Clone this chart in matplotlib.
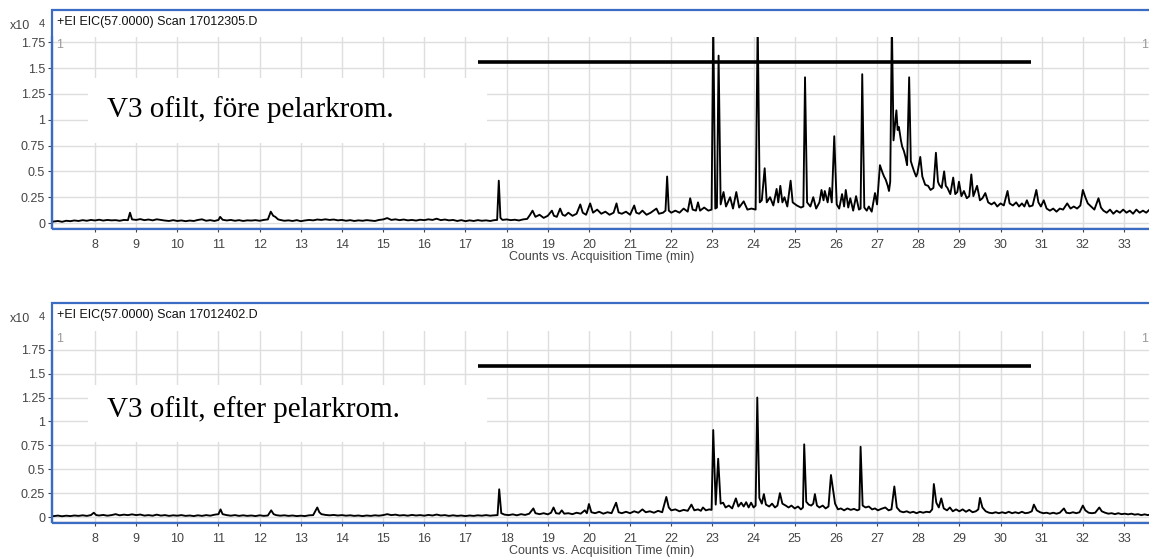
import matplotlib
matplotlib.use("Agg")
import matplotlib.pyplot as plt
from matplotlib.patches import Rectangle

plt.rcParams['font.family'] = ['Liberation Sans', 'DejaVu Sans']

W, H = 1149, 558

# EIC m/z 57, intensitet i enheter av 10^4 counts, tid i minuter
fore = [
    (7.0, .015), (7.1, .020), (7.2, .012), (7.3, .022), (7.4, .018), (7.5, .025), (7.6, .020), (7.7, .028),
    (7.8, .022), (7.9, .030), (8.0, .025), (8.1, .032), (8.2, .024), (8.3, .030), (8.4, .026), (8.5, .028),
    (8.6, .022), (8.7, .030), (8.8, .028), (8.85, .100), (8.9, .035), (9.0, .030), (9.1, .038), (9.2, .028),
    (9.3, .034), (9.4, .026), (9.5, .036), (9.6, .030), (9.7, .024), (9.8, .020), (9.9, .028), (10.0, .020),
    (10.1, .025), (10.2, .018), (10.3, .024), (10.4, .020), (10.5, .030), (10.6, .036), (10.7, .022), (10.8, .028),
    (10.9, .020), (11.0, .030), (11.04, .060), (11.1, .032), (11.2, .025), (11.3, .030), (11.4, .022), (11.5, .028),
    (11.6, .020), (11.7, .026), (11.8, .024), (11.9, .028), (12.0, .022), (12.1, .030), (12.2, .035), (12.27, .110),
    (12.33, .070), (12.38, .060), (12.45, .035), (12.5, .030), (12.6, .022), (12.7, .026), (12.8, .020), (12.9, .028),
    (13.0, .018), (13.1, .025), (13.2, .030), (13.3, .026), (13.4, .034), (13.5, .030), (13.6, .036), (13.7, .030),
    (13.8, .034), (13.9, .026), (14.0, .030), (14.1, .022), (14.2, .028), (14.3, .020), (14.4, .026), (14.5, .022),
    (14.6, .028), (14.7, .024), (14.8, .020), (14.9, .030), (15.0, .035), (15.1, .048), (15.2, .030), (15.3, .036),
    (15.4, .028), (15.5, .034), (15.6, .026), (15.7, .030), (15.8, .024), (15.9, .032), (16.0, .028), (16.1, .036),
    (16.2, .030), (16.3, .042), (16.4, .028), (16.5, .034), (16.6, .026), (16.7, .030), (16.8, .020), (16.9, .028),
    (17.0, .018), (17.1, .026), (17.2, .020), (17.3, .028), (17.4, .022), (17.5, .026), (17.6, .020), (17.7, .028),
    (17.77, .030), (17.81, .410), (17.85, .050), (17.9, .030), (18.0, .035), (18.1, .028), (18.2, .032), (18.3, .025),
    (18.4, .035), (18.5, .040), (18.57, .080), (18.63, .120), (18.7, .060), (18.8, .080), (18.9, .050), (19.0, .070),
    (19.1, .120), (19.15, .070), (19.22, .060), (19.3, .140), (19.36, .080), (19.42, .070), (19.5, .100), (19.6, .070),
    (19.7, .090), (19.79, .180), (19.85, .100), (19.93, .080), (20.03, .190), (20.1, .100), (20.2, .130), (20.3, .090),
    (20.4, .110), (20.5, .080), (20.6, .100), (20.67, .190), (20.72, .100), (20.8, .090), (20.9, .110), (21.0, .080),
    (21.1, .170), (21.15, .100), (21.22, .090), (21.3, .120), (21.4, .080), (21.5, .100), (21.64, .140), (21.7, .090),
    (21.8, .100), (21.86, .120), (21.9, .450), (21.94, .120), (22.0, .100), (22.1, .120), (22.2, .100), (22.3, .140),
    (22.4, .110), (22.46, .240), (22.52, .130), (22.6, .120), (22.65, .200), (22.7, .120), (22.8, .150), (22.9, .120),
    (22.98, .130), (23.02, 1.95), (23.07, .140), (23.11, .150), (23.15, 1.62), (23.2, .180), (23.27, .300), (23.33, .160),
    (23.43, .250), (23.5, .140), (23.58, .300), (23.65, .150), (23.76, .210), (23.85, .130), (23.95, .140), (24.05, .130),
    (24.1, 1.95), (24.15, .200), (24.2, .220), (24.27, .530), (24.32, .200), (24.4, .250), (24.48, .170), (24.56, .330),
    (24.6, .200), (24.65, .360), (24.7, .200), (24.75, .250), (24.82, .160), (24.9, .410), (24.95, .200), (25.05, .170),
    (25.15, .150), (25.21, .160), (25.25, 1.41), (25.3, .200), (25.38, .160), (25.45, .250), (25.52, .140), (25.6, .200),
    (25.65, .320), (25.7, .220), (25.73, .310), (25.8, .200), (25.85, .340), (25.9, .200), (25.96, .840), (26.02, .180),
    (26.08, .140), (26.15, .280), (26.2, .160), (26.24, .320), (26.3, .150), (26.35, .240), (26.42, .120), (26.49, .260),
    (26.56, .130), (26.6, .140), (26.64, 1.44), (26.69, .150), (26.75, .120), (26.8, .160), (26.87, .110), (26.95, .290),
    (27.0, .180), (27.07, .560), (27.13, .490), (27.17, .450), (27.21, .420), (27.26, .360), (27.29, .310), (27.32, .400),
    (27.36, 1.95), (27.4, .800), (27.47, 1.09), (27.5, .900), (27.53, .930), (27.58, .800), (27.61, .740), (27.65, .700),
    (27.69, .640), (27.73, .560), (27.78, 1.41), (27.82, .600), (27.85, .560), (27.9, .500), (27.95, .450), (27.98, .480),
    (28.05, .640), (28.1, .450), (28.17, .370), (28.24, .360), (28.3, .320), (28.37, .340), (28.43, .680), (28.48, .400),
    (28.51, .370), (28.57, .340), (28.63, .500), (28.67, .360), (28.71, .340), (28.78, .280), (28.85, .440), (28.9, .280),
    (28.95, .300), (28.99, .400), (29.05, .260), (29.11, .310), (29.18, .240), (29.24, .260), (29.29, .470), (29.34, .260),
    (29.43, .360), (29.5, .220), (29.56, .240), (29.63, .290), (29.7, .200), (29.78, .180), (29.85, .200), (29.92, .160),
    (30.0, .190), (30.08, .170), (30.17, .310), (30.22, .190), (30.3, .170), (30.38, .200), (30.45, .160), (30.52, .190),
    (30.58, .160), (30.64, .220), (30.7, .160), (30.78, .170), (30.87, .320), (30.92, .200), (30.98, .160), (31.05, .220),
    (31.12, .140), (31.2, .120), (31.28, .140), (31.36, .110), (31.44, .140), (31.52, .130), (31.62, .190), (31.7, .140),
    (31.78, .160), (31.86, .140), (31.94, .170), (32.0, .320), (32.06, .250), (32.12, .190), (32.2, .160), (32.28, .130),
    (32.38, .240), (32.44, .150), (32.5, .120), (32.58, .100), (32.66, .130), (32.74, .090), (32.82, .120), (32.9, .100),
    (32.98, .130), (33.06, .100), (33.14, .120), (33.22, .090), (33.3, .130), (33.38, .100), (33.46, .120), (33.54, .100),
    (33.62, .130),
]

efter = [
    (7.0, .010), (7.1, .015), (7.2, .008), (7.3, .014), (7.4, .010), (7.5, .016), (7.6, .012), (7.7, .018),
    (7.8, .012), (7.9, .020), (7.97, .045), (8.03, .020), (8.1, .016), (8.2, .022), (8.3, .014), (8.4, .020),
    (8.5, .030), (8.6, .018), (8.7, .025), (8.8, .020), (8.9, .028), (9.0, .020), (9.1, .026), (9.2, .015),
    (9.3, .020), (9.4, .014), (9.5, .025), (9.6, .015), (9.7, .020), (9.8, .012), (9.9, .018), (10.0, .014),
    (10.1, .020), (10.2, .012), (10.3, .016), (10.4, .010), (10.5, .018), (10.6, .012), (10.7, .020), (10.8, .014),
    (10.9, .024), (11.0, .030), (11.05, .080), (11.1, .030), (11.2, .020), (11.3, .014), (11.4, .020), (11.5, .012),
    (11.6, .018), (11.7, .012), (11.8, .016), (11.9, .010), (12.0, .018), (12.1, .012), (12.2, .016), (12.28, .070),
    (12.34, .030), (12.4, .020), (12.5, .014), (12.6, .018), (12.7, .012), (12.8, .016), (12.9, .010), (13.0, .014),
    (13.1, .010), (13.2, .018), (13.3, .020), (13.4, .100), (13.45, .050), (13.5, .030), (13.6, .022), (13.7, .018),
    (13.8, .022), (13.9, .016), (14.0, .020), (14.1, .014), (14.2, .018), (14.3, .012), (14.4, .016), (14.5, .010),
    (14.6, .016), (14.7, .012), (14.8, .018), (14.9, .014), (15.0, .020), (15.1, .030), (15.2, .020), (15.3, .025),
    (15.4, .016), (15.5, .020), (15.6, .014), (15.7, .022), (15.8, .016), (15.9, .020), (16.0, .014), (16.1, .022),
    (16.2, .016), (16.3, .026), (16.4, .016), (16.5, .020), (16.6, .012), (16.7, .018), (16.8, .012), (16.9, .016),
    (17.0, .010), (17.1, .016), (17.2, .012), (17.3, .018), (17.4, .014), (17.5, .020), (17.6, .014), (17.7, .018),
    (17.78, .020), (17.82, .290), (17.87, .040), (17.95, .025), (18.05, .020), (18.15, .028), (18.25, .018), (18.35, .030),
    (18.45, .022), (18.55, .035), (18.65, .090), (18.7, .040), (18.8, .030), (18.9, .040), (19.0, .028), (19.08, .045),
    (19.14, .100), (19.2, .040), (19.28, .035), (19.34, .070), (19.4, .035), (19.5, .040), (19.6, .030), (19.7, .045),
    (19.8, .035), (19.9, .070), (19.95, .040), (20.0, .136), (20.06, .050), (20.15, .040), (20.25, .055), (20.35, .035),
    (20.45, .050), (20.55, .040), (20.66, .150), (20.72, .050), (20.8, .040), (20.9, .055), (21.0, .040), (21.1, .060),
    (21.2, .045), (21.3, .080), (21.38, .050), (21.48, .060), (21.58, .045), (21.68, .065), (21.78, .050), (21.88, .210),
    (21.94, .100), (22.0, .070), (22.1, .080), (22.2, .060), (22.3, .075), (22.4, .065), (22.49, .130), (22.56, .070),
    (22.65, .080), (22.72, .065), (22.77, .100), (22.84, .070), (22.92, .080), (22.98, .075), (23.02, .910), (23.08, .130),
    (23.14, .610), (23.2, .140), (23.26, .150), (23.32, .100), (23.4, .120), (23.48, .090), (23.57, .195), (23.63, .110),
    (23.7, .150), (23.76, .110), (23.82, .155), (23.88, .100), (23.94, .150), (24.0, .100), (24.05, .120), (24.09, 1.25),
    (24.14, .200), (24.2, .140), (24.25, .240), (24.3, .130), (24.38, .110), (24.45, .140), (24.52, .100), (24.58, .120),
    (24.64, .250), (24.7, .140), (24.78, .120), (24.85, .100), (24.92, .120), (25.0, .090), (25.08, .110), (25.15, .080),
    (25.2, .100), (25.23, .760), (25.28, .160), (25.34, .130), (25.4, .120), (25.45, .140), (25.49, .240), (25.54, .120),
    (25.6, .100), (25.68, .120), (25.75, .090), (25.82, .110), (25.88, .440), (25.93, .290), (25.98, .140), (26.05, .080),
    (26.12, .090), (26.2, .070), (26.28, .090), (26.36, .075), (26.44, .085), (26.52, .070), (26.57, .080), (26.6, .735),
    (26.65, .120), (26.72, .100), (26.8, .110), (26.88, .080), (26.95, .090), (27.02, .070), (27.1, .085), (27.2, .100),
    (27.28, .070), (27.35, .080), (27.42, .320), (27.48, .100), (27.56, .060), (27.64, .050), (27.72, .060), (27.8, .045),
    (27.88, .055), (27.96, .040), (28.04, .055), (28.12, .045), (28.2, .055), (28.28, .050), (28.34, .080), (28.38, .345),
    (28.44, .150), (28.5, .100), (28.56, .195), (28.62, .090), (28.7, .070), (28.77, .100), (28.84, .060), (28.92, .080),
    (29.0, .060), (29.08, .080), (29.16, .055), (29.24, .075), (29.32, .050), (29.4, .060), (29.46, .080), (29.5, .200),
    (29.56, .100), (29.64, .060), (29.72, .045), (29.8, .040), (29.88, .050), (29.96, .040), (30.04, .050), (30.12, .040),
    (30.2, .055), (30.28, .040), (30.36, .050), (30.44, .040), (30.52, .055), (30.6, .040), (30.68, .045), (30.76, .060),
    (30.81, .130), (30.88, .070), (30.96, .050), (31.04, .040), (31.12, .045), (31.2, .035), (31.28, .045), (31.36, .035),
    (31.44, .045), (31.54, .090), (31.6, .045), (31.68, .040), (31.76, .050), (31.84, .040), (31.92, .050), (32.0, .120),
    (32.06, .070), (32.14, .045), (32.22, .040), (32.3, .045), (32.4, .100), (32.46, .060), (32.54, .045), (32.62, .035),
    (32.7, .040), (32.78, .030), (32.86, .040), (32.94, .030), (33.02, .035), (33.1, .028), (33.18, .035), (33.26, .025),
    (33.34, .030), (33.42, .020), (33.5, .028), (33.58, .020), (33.66, .030),
]

titlar = ["+EI EIC(57.0000) Scan 17012305.D", "+EI EIC(57.0000) Scan 17012402.D"]
etiketter = ["V3 ofilt, före pelarkrom.", "V3 ofilt, efter pelarkrom."]
yticks = [0, 0.25, 0.5, 0.75, 1, 1.25, 1.5, 1.75]
ytick_text = ["0", "0.25", "0.5", "0.75", "1", "1.25", "1.5", "1.75"]
xticks = list(range(8, 34))
# markerat tidsintervall (min) och nivå (x10^4)
linje_t = [17.3, 30.75]
linje_y = [1.56, 1.58]

BLA = "#3b6cc4"
GRA = "#444444"


def fx(x):
    return x / W


def fy(y):
    return 1 - y / H


# pixelplacering för varje panel: ram-topp, axel-topp, axel-botten, ylim
paneler = [
    dict(ram=10, top=37, bot=228, ylim=(-0.048, 1.80)),
    dict(ram=303, top=331, bot=522, ylim=(-0.052, 1.946)),
]

fig = plt.figure(figsize=(W / 100, H / 100), dpi=100)

for i, (data, p) in enumerate(zip([fore, efter], paneler)):
    t, y = zip(*data)
    ax = fig.add_axes([fx(52), fy(p["bot"]), fx(1100), (p["bot"] - p["top"]) / H])
    ax.set_xlim(6.955, 33.68)
    ax.set_ylim(*p["ylim"])
    ax.set_xticks(xticks)
    ax.set_yticks(yticks)
    ax.set_yticklabels(ytick_text)
    ax.tick_params(axis="both", labelsize=9, colors=GRA, length=3, width=0.8, pad=2)
    ax.tick_params(axis="x", pad=5)
    ax.grid(True, color="#dedede", lw=1.0, zorder=0)
    ax.set_axisbelow(True)
    for s in ["top", "right"]:
        ax.spines[s].set_visible(False)
    ax.spines["left"].set_color(BLA)
    ax.spines["left"].set_linewidth(1.6)
    ax.spines["bottom"].set_color("#888888")
    ax.spines["bottom"].set_linewidth(1.0)

    # vit ruta bakom etiketten
    ax.add_patch(Rectangle((7.83, 0.77 if i == 0 else 0.78), 17.52 - 7.83, 0.63 if i == 0 else 0.6,
                           facecolor="white", edgecolor="none", zorder=1))
    ax.text(8.3, 1.10 if i == 0 else 1.12, etiketter[i], family="Liberation Serif", fontsize=21,
            va="center", ha="left", color="black", zorder=2)

    ax.plot(t, y, color="black", lw=1.35, zorder=3)
    ax.hlines(linje_y[i], linje_t[0], linje_t[1], color="black", lw=2.6, zorder=4)

    ax.set_xlabel("Counts vs. Acquisition Time (min)", fontsize=9, color=GRA, labelpad=0)

    # blå ram runt panelen
    fig.add_artist(Rectangle((fx(52), fy(p["bot"] + 1)), fx(1102), (p["bot"] + 1 - p["ram"]) / H,
                             transform=fig.transFigure, fill=False, edgecolor=BLA, lw=1.6))
    fig.text(fx(57), fy(p["ram"] + 12), titlar[i], fontsize=9, color="#111111", va="center", ha="left")
    fig.text(fx(10), fy(p["ram"] + 16), "x10", fontsize=9, color=GRA, va="center", ha="left")
    fig.text(fx(39), fy(p["ram"] + 14), "4", fontsize=8, color=GRA, va="center", ha="left")
    fig.text(fx(56), fy(p["top"] + 8), "1", fontsize=9, color="#999999", va="center", ha="left")
    fig.text(fx(1141), fy(p["top"] + 8), "1", fontsize=9, color="#999999", va="center", ha="left")

fig.savefig("out.png", dpi=100)
